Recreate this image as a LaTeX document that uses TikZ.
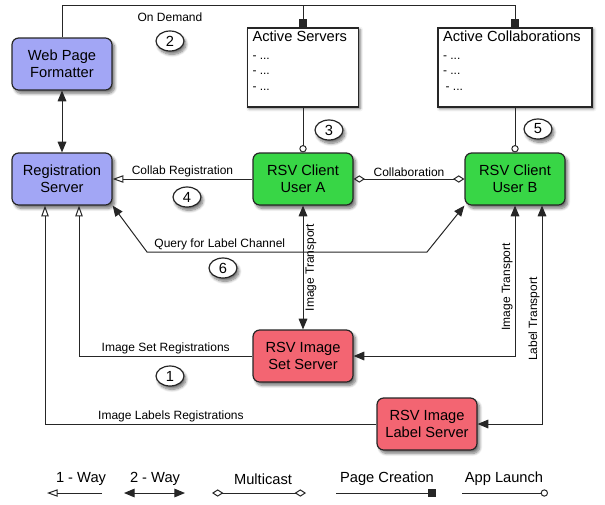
\documentclass[tikz,border=0pt]{standalone}
\usepackage{fontspec}
\setmainfont{Liberation Sans}
\usetikzlibrary{arrows.meta,shapes.geometric,shadows.blur}

\definecolor{formatblue}{RGB}{162,166,245}
\definecolor{clientgreen}{RGB}{56,214,70}
\definecolor{serverred}{RGB}{243,101,114}

\tikzstyle{appbox} = [draw=black!85, line width=0.9pt, rectangle, rounded corners=5pt,
    minimum width=75pt, minimum height=39pt, align=center,
    font=\fontsize{11}{13}\selectfont,
    blur shadow={shadow xshift=2pt, shadow yshift=-2.5pt, shadow blur steps=8, shadow opacity=55}]
\tikzstyle{listbox} = [draw=black!85, line width=0.9pt, fill=white, rectangle,
    minimum height=59.25pt,
    blur shadow={shadow xshift=1.2pt, shadow yshift=-1.2pt, shadow blur steps=3, shadow opacity=60}]
\tikzstyle{listtext} = [anchor=north west, align=left, inner xsep=4pt, inner ysep=2.5pt,
    font=\fontsize{9}{11.6}\selectfont]
\tikzstyle{stepnum} = [draw=black!85, line width=0.9pt, fill=white, ellipse,
    minimum width=21pt, minimum height=15pt, inner sep=0pt,
    font=\fontsize{11}{13}\selectfont,
    blur shadow={shadow xshift=1.5pt, shadow yshift=-2.5pt, shadow blur steps=8, shadow opacity=55}]
\tikzstyle{linklabel} = [font=\fontsize{9}{11}\selectfont, inner sep=1.5pt]
\tikzstyle{legendlabel} = [font=\fontsize{11}{13}\selectfont, inner sep=1pt]
\tikzstyle{link} = [line width=0.75pt, draw=black!85]
\tikzstyle{oneway} = [link, -{Triangle[open, length=8pt, width=5.5pt]}]
\tikzstyle{twoway} = [link, {Triangle[length=8pt, width=6.5pt]}-{Triangle[length=8pt, width=6.5pt]}]
\tikzstyle{multicast} = [link, {Diamond[open, length=8.5pt, width=5.5pt]}-{Diamond[open, length=8.5pt, width=5.5pt]}]
\tikzstyle{pagelink} = [link, -{Square[length=6pt, width=6pt]}]
\tikzstyle{launch} = [link, -{Circle[open, length=5.5pt]}]

\begin{document}
\begin{tikzpicture}[x=0.75pt, y=-0.75pt]
\useasboundingbox (0,0) rectangle (605,504);

% servers and clients
\node [appbox, fill=formatblue] (web) at (62,64) {Web Page\\Formatter};
\node [appbox, fill=formatblue] (reg) at (62,179) {Registration\\Server};
\node [appbox, fill=clientgreen] (usera) at (303,179) {RSV Client\\User A};
\node [appbox, fill=clientgreen] (userb) at (515,179) {RSV Client\\User B};
\node [appbox, fill=serverred] (imgset) at (303,356) {RSV Image\\Set Server};
\node [appbox, fill=serverred] (labelsrv) at (427,424) {RSV Image\\Label Server};

% lists
\node [listbox, minimum width=83.25pt] (servers) at (303,67.5) {};
\node [listtext] (serverstext) at (servers.north west) {{\fontsize{11}{13}\selectfont Active Servers}\\[1.5pt]- ...\\- ...\\- ...};
\node [listbox, minimum width=115.5pt] (colls) at (515,67.5) {};
\node [listtext] (collstext) at (colls.north west) {{\fontsize{11}{13}\selectfont Active Collaborations}\\[1.5pt]- ...\\- ...\\\hspace{2pt}- ...};

% page creation
\coordinate (bus) at (62,5);
\draw [pagelink] (web.north) -- (bus) -| (colls.north);
\draw [pagelink] (servers.north |- bus) -- (servers.north);
\node [linklabel] (demand) at (170,17) {On Demand};

% links
\draw [twoway] (web) -- (reg);
\draw [launch] (servers.south) -- (usera.north);
\draw [launch] (colls.south) -- (userb.north);
\draw [oneway] (usera) -- node [linklabel, above] {Collab Registration} (reg);
\draw [multicast] (usera) -- node [linklabel, above] {Collaboration} (userb);

\coordinate (q1) at (147,252);
\coordinate (q2) at (427,252);
\draw [twoway] (reg.south east) -- (q1) -- node [linklabel, above, pos=0.26] {Query for Label Channel} (q2) -- (userb.south west);

\draw [twoway] (usera) -- node [linklabel, rotate=90, anchor=north] {Image Transport} (imgset);
\draw [twoway] (userb.south) |- node [linklabel, rotate=90, anchor=south, pos=0.27] {Image Transport} (imgset.east);
\draw [twoway] ([xshift=20.25pt]userb.south) |- node [linklabel, rotate=90, anchor=south, pos=0.26] {Label Transport} (labelsrv.east);

\draw [oneway] (imgset.west) -| node [linklabel, above, pos=0.25] {Image Set Registrations} ([xshift=12.75pt]reg.south);
\draw [oneway] (labelsrv.west) -| node [linklabel, above, pos=0.31] {Image Labels Registrations} ([xshift=-12.75pt]reg.south);

% steps
\node [stepnum] (s1) at (170,376) {1};
\node [stepnum] (s2) at (170,41) {2};
\node [stepnum] (s3) at (329,130) {3};
\node [stepnum] (s4) at (187,197) {4};
\node [stepnum] (s5) at (538,129) {5};
\node [stepnum] (s6) at (223,268) {6};

% legend
\node [legendlabel] (lgone) at (81,479) {1 - Way};
\coordinate (lgonel) at (47,493);
\coordinate (lgoner) at (102,493);
\draw [oneway] (lgoner) -- (lgonel);

\node [legendlabel] (lgtwo) at (155,479) {2 - Way};
\coordinate (lgtwol) at (124,493);
\coordinate (lgtwor) at (185,493);
\draw [twoway] (lgtwol) -- (lgtwor);

\node [legendlabel] (lgmulti) at (263,479) {Multicast};
\coordinate (lgmultil) at (212,493);
\coordinate (lgmultir) at (306,493);
\draw [multicast] (lgmultil) -- (lgmultir);

\node [legendlabel] (lgpage) at (387,479) {Page Creation};
\coordinate (lgpagel) at (336,493);
\coordinate (lgpager) at (436,493);
\draw [pagelink] (lgpagel) -- (lgpager);

\node [legendlabel] (lgapp) at (504,479) {App Launch};
\coordinate (lgappl) at (462,493);
\coordinate (lgappr) at (548,493);
\draw [launch] (lgappl) -- (lgappr);
\end{tikzpicture}
\end{document}
